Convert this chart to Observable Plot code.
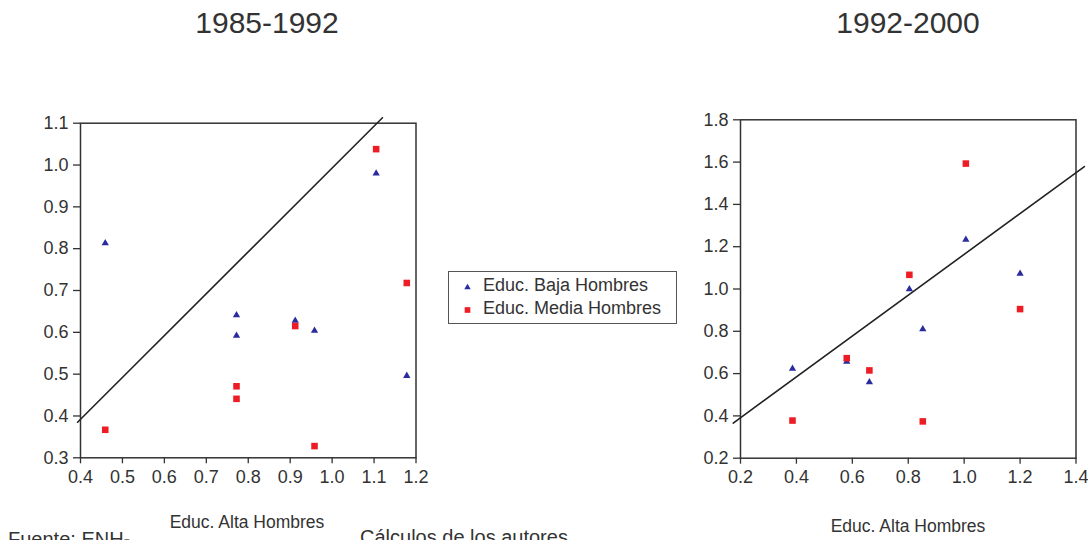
<!DOCTYPE html>
<html><head><meta charset="utf-8">
<script src="https://cdn.jsdelivr.net/npm/d3@7"></script>
<script src="https://cdn.jsdelivr.net/npm/@observablehq/plot@0.6"></script>
<style>
html,body{margin:0;padding:0;background:#fff;}
#root{position:relative;width:1088px;height:540px;overflow:hidden;font-family:Arial,"Liberation Sans",sans-serif;color:#333;}
.abs{position:absolute;white-space:nowrap;}
.title{font-size:30px;color:#333;transform:translateX(-50%);}
.axlab{font-size:17.5px;color:#333;transform:translateX(-50%);}
.src{font-size:20px;color:#333;}
.legend{position:absolute;left:448px;top:271px;width:229px;height:53px;border:1px solid #555;box-sizing:border-box;}
.legrow{position:absolute;left:34px;font-size:18px;color:#333;}
</style>
</head><body><div id="root"></div>
<script>
const seriesNames = ["Educ. Baja Hombres", "Educ. Media Hombres"];
// Panel 1985-1992
const p1X = [0.459, 0.772, 0.772, 0.912, 0.958, 1.105, 1.178];
const p1Baja = [0.813, 0.641, 0.592, 0.628, 0.604, 0.980, 0.496];
const p1XMedia = [0.459, 0.772, 0.772, 0.912, 0.958, 1.105, 1.178];
const p1Media = [0.367, 0.471, 0.441, 0.615, 0.328, 1.038, 0.718];
const p1LineX = [0.393, 1.12];
const p1LineY = [0.385, 1.113];
// Panel 1992-2000
const p2X = [0.386, 0.580, 0.661, 0.804, 0.852, 1.006, 1.200];
const p2Baja = [0.623, 0.657, 0.559, 0.999, 0.810, 1.233, 1.072];
const p2Media = [0.378, 0.673, 0.615, 1.067, 0.374, 1.593, 0.905];
const p2LineX = [0.174, 1.43];
const p2LineY = [0.366, 1.579];
// ticks
const p1XTicks = [0.4, 0.5, 0.6, 0.7, 0.8, 0.9, 1.0, 1.1, 1.2];
const p1YTicks = [0.3, 0.4, 0.5, 0.6, 0.7, 0.8, 0.9, 1.0, 1.1];
const p2XTicks = [0.2, 0.4, 0.6, 0.8, 1.0, 1.2, 1.4];
const p2YTicks = [0.2, 0.4, 0.6, 0.8, 1.0, 1.2, 1.4, 1.6, 1.8];
const titles = ["1985-1992", "1992-2000"];
const xLabel = "Educ. Alta Hombres";
const source = ["Fuente: ENH-", "Cálculos de los autores"];

const BLUE = "#2b2ba0", RED = "#ee1c24", INK = "#333";
const fmt = d3.format(".1f");
const root = document.getElementById("root");

function panel(opt) {
  const baja = opt.xs.map((x, i) => ({x, y: opt.baja[i]}));
  const media = opt.xm.map((x, i) => ({x, y: opt.media[i]}));
  const line = opt.lx.map((x, i) => ({x, y: opt.ly[i]}));
  const p = Plot.plot({
    width: opt.width, height: opt.height,
    marginLeft: opt.ml, marginRight: opt.mr, marginTop: opt.mt, marginBottom: opt.mb,
    style: {fontFamily: "Arial, 'Liberation Sans', sans-serif", fontSize: "18px", color: INK, background: "transparent", overflow: "visible"},
    x: {domain: opt.xd, ticks: opt.xt, tickFormat: fmt},
    y: {domain: opt.yd, ticks: opt.yt, tickFormat: fmt},
    marks: [
      Plot.axisX({ticks: opt.xt, tickFormat: fmt, tickSize: 6, tickPadding: 6, label: null, stroke: INK, strokeWidth: 1.3, fontSize: 18}),
      Plot.axisY({ticks: opt.yt, tickFormat: fmt, tickSize: 7, tickPadding: 5, label: null, stroke: INK, strokeWidth: 1.3, fontSize: 18}),
      Plot.frame({stroke: INK, strokeWidth: 1.5}),
      Plot.line(line, {x: "x", y: "y", stroke: "#222", strokeWidth: 1.6}),
      Plot.dot(baja, {x: "x", y: "y", symbol: "triangle", r: 2.7, fill: BLUE}),
      Plot.dot(media, {x: "x", y: "y", symbol: "square", r: 3.7, fill: RED})
    ]
  });
  p.style.position = "absolute";
  p.style.left = opt.left + "px";
  p.style.top = "0px";
  root.appendChild(p);
}

panel({left: 0, width: 440, height: 500, ml: 80, mr: 24.5, mt: 122.7, mb: 42.7,
  xd: [0.4, 1.2], yd: [0.3, 1.1], xt: p1XTicks, yt: p1YTicks,
  xs: p1X, baja: p1Baja, xm: p1XMedia, media: p1Media, lx: p1LineX, ly: p1LineY});
panel({left: 690, width: 430, height: 500, ml: 50, mr: 44.5, mt: 119.3, mb: 42.3,
  xd: [0.2, 1.4], yd: [0.2, 1.8], xt: p2XTicks, yt: p2YTicks,
  xs: p2X, baja: p2Baja, xm: p2X, media: p2Media, lx: p2LineX, ly: p2LineY});

function txt(cls, s, left, top) {
  const d = document.createElement("div");
  d.className = "abs " + cls; d.textContent = s;
  d.style.left = left + "px"; d.style.top = top + "px";
  root.appendChild(d);
}
txt("title", titles[0], 267, 6);
txt("title", titles[1], 908, 6);
txt("axlab", xLabel, 247, 512);
txt("axlab", xLabel, 908, 516);
txt("src", source[0], 8, 528);
txt("src", source[1], 360, 526);

// legend
const leg = document.createElement("div"); leg.className = "legend"; root.appendChild(leg);
const legSym = d3.create("svg").attr("width", 229).attr("height", 53).style("position", "absolute").style("left", "-1px").style("top", "-1px");
legSym.append("path").attr("d", d3.symbol(d3.symbolTriangle, 18)()).attr("transform", "translate(19.5,16.5)").attr("fill", BLUE);
legSym.append("path").attr("d", d3.symbol(d3.symbolSquare, 32)()).attr("transform", "translate(19.5,39)").attr("fill", RED);
leg.appendChild(legSym.node());
seriesNames.forEach((n, i) => {
  const r = document.createElement("div"); r.className = "legrow abs"; r.textContent = n;
  r.style.top = (3 + i * 23) + "px"; leg.appendChild(r);
});
</script></body></html>
